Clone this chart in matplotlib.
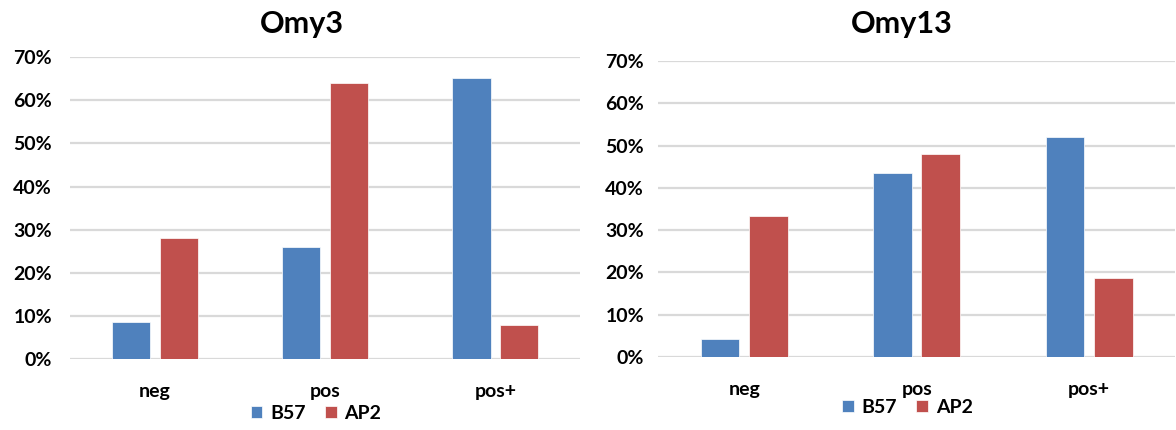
import numpy as np
import matplotlib.pyplot as plt
from matplotlib.ticker import PercentFormatter

plt.rcParams['font.family'] = ['Lato', 'DejaVu Sans']

categories = ['neg', 'pos', 'pos+']
series_names = ['B57', 'AP2']
colors = ['#4F81BD', '#C0504D']

omy3_b57 = [8.7, 26.0, 65.2]
omy3_ap2 = [28.0, 63.9, 8.0]
omy13_b57 = [4.3, 43.4, 52.1]
omy13_ap2 = [33.3, 48.0, 18.6]

fig = plt.figure(figsize=(11.76, 4.30), dpi=100)

def draw(ax, b57, ap2, title, title_x, ypad, legend_x, legend_y):
    x = np.arange(len(categories))
    w = 0.225
    ax.bar(x - 0.14, b57, w, color=colors[0], label=series_names[0],
           edgecolor='white', linewidth=0.5, zorder=3)
    ax.bar(x + 0.14, ap2, w, color=colors[1], label=series_names[1],
           edgecolor='white', linewidth=0.5, zorder=3)
    ax.set_xlim(-0.5, 2.5)
    ax.set_ylim(0, 70)
    ax.set_yticks(np.arange(0, 71, 10))
    ax.yaxis.set_major_formatter(PercentFormatter(decimals=0))
    ax.set_xticks(x)
    ax.set_xticklabels(categories)
    ax.grid(axis='y', color='#D9D9D9', linewidth=1.6, zorder=0)
    for s in ax.spines.values():
        s.set_visible(False)
    ax.tick_params(axis='both', length=0, labelsize=14)
    ax.tick_params(axis='y', pad=ypad)
    ax.tick_params(axis='x', pad=17)
    for lab in ax.get_xticklabels() + ax.get_yticklabels():
        lab.set_fontweight('bold')
    fig.text(title_x, 0.945, title, ha='center', va='center',
             fontsize=22, fontweight='bold')
    ax.legend(loc='center', bbox_to_anchor=(legend_x, legend_y), ncol=2,
              frameon=False, handlelength=0.6, handleheight=0.6,
              handletextpad=0.4, columnspacing=1.0,
              prop={'size': 14, 'weight': 'bold'})

ax1 = fig.add_axes([0.0595, 0.165, 0.434, 0.702])
draw(ax1, omy3_b57, omy3_ap2, 'Omy3', 0.257, 13, 0.482, -0.18)

ax2 = fig.add_axes([0.5595, 0.170, 0.44, 0.688])
draw(ax2, omy13_b57, omy13_ap2, 'Omy13', 0.767, 10, 0.482, -0.17)

fig.savefig('out.png', dpi=100)
